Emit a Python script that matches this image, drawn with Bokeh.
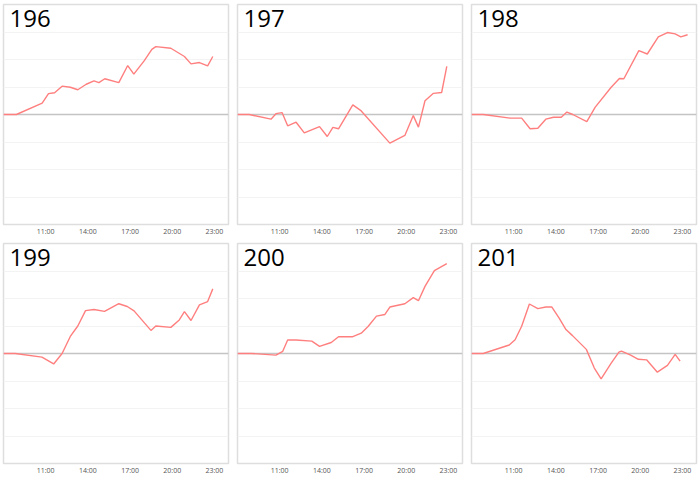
from bokeh.plotting import figure
from bokeh.layouts import gridplot
from bokeh.models import FixedTicker, Span, Label
from bokeh.embed import file_html
from bokeh.resources import INLINE

PANEL_IDS = ["196", "197", "198", "199", "200", "201"]
TICK_LABELS = ["11:00", "14:00", "17:00", "20:00", "23:00"]

T196 = ["8:00", "8:55", "10:45", "11:12", "11:38", "12:10", "12:45", "13:17", "13:53", "14:26", "14:47", "15:12",
        "16:12", "16:50", "17:16", "18:00", "18:33", "18:50", "19:54", "20:52", "21:20", "21:56", "22:31", "22:53"]
V196 = [0, 0, 0.41, 0.76, 0.79, 1.03, 0.99, 0.9, 1.1, 1.22, 1.16, 1.3,
        1.16, 1.78, 1.47, 1.95, 2.37, 2.47, 2.41, 2.11, 1.84, 1.89, 1.77, 2.11]

T197 = ["8:00", "8:50", "10:23", "10:44", "11:10", "11:34", "12:10", "12:45", "13:50", "14:23", "14:47", "15:11",
        "16:12", "16:48", "18:50", "19:54", "20:30", "20:52", "21:20", "21:56", "22:31", "22:53"]
V197 = [0, 0, -0.17, 0.03, 0.07, -0.41, -0.28, -0.67, -0.44, -0.8, -0.47, -0.52,
        0.35, 0.13, -1.04, -0.76, -0.04, -0.46, 0.5, 0.77, 0.8, 1.75]

T198 = ["8:00", "8:50", "10:44", "11:34", "12:10", "12:43", "13:17", "13:50", "14:23", "14:47", "15:12", "16:12",
        "16:48", "17:56", "18:31", "18:50", "19:54", "20:30", "21:17", "21:56", "22:29", "22:53", "23:22"]
V198 = [0, 0, -0.13, -0.13, -0.52, -0.5, -0.17, -0.1, -0.1, 0.09, 0, -0.26,
        0.27, 0.99, 1.31, 1.3, 2.32, 2.2, 2.82, 2.98, 2.93, 2.82, 2.9]

T199 = ["8:00", "8:50", "10:44", "11:34", "12:10", "12:45", "13:17", "13:50", "14:26", "15:11", "16:12", "16:48",
        "17:17", "18:29", "18:50", "19:54", "20:30", "20:52", "21:20", "21:56", "22:31", "22:53"]
V199 = [0, 0, -0.13, -0.38, 0, 0.62, 1.0, 1.56, 1.6, 1.53, 1.81, 1.71,
        1.55, 0.84, 1.0, 0.95, 1.22, 1.52, 1.2, 1.77, 1.89, 2.35]

T200 = ["8:00", "9:00", "10:44", "11:13", "11:34", "12:10", "13:17", "13:50", "14:40", "15:11", "16:12", "16:48",
        "17:17", "17:53", "18:29", "18:50", "19:54", "20:30", "20:52", "21:20", "22:00", "22:53"]
V200 = [0, 0, -0.06, 0.08, 0.49, 0.49, 0.45, 0.26, 0.4, 0.61, 0.61, 0.74,
        0.98, 1.36, 1.42, 1.69, 1.81, 2.03, 1.92, 2.44, 3.01, 3.27]

T201 = ["8:00", "8:50", "10:41", "11:06", "11:34", "12:07", "12:43", "13:17", "13:43", "14:14", "14:43", "15:11",
        "16:10", "16:44", "17:13", "17:56", "18:29", "18:40", "19:19", "19:52", "20:27", "21:13", "21:56", "22:29", "22:50"]
V201 = [0, 0, 0.31, 0.5, 0.99, 1.8, 1.63, 1.69, 1.69, 1.29, 0.87, 0.65,
        0.15, -0.53, -0.92, -0.35, 0.05, 0.09, -0.06, -0.21, -0.23, -0.68, -0.43, -0.03, -0.28]

SERIES = [(T196, V196), (T197, V197), (T198, V198), (T199, V199), (T200, V200), (T201, V201)]


def hours(s):
    h, m = s.split(":")
    return int(h) + int(m) / 60.0


tick_pos = [hours(t) for t in TICK_LABELS]
overrides = {p: lab for p, lab in zip(tick_pos, TICK_LABELS)}

figs = []
for i, (pid, (ts, vs)) in enumerate(zip(PANEL_IDS, SERIES)):
    col, row = i % 3, i // 3
    p = figure(frame_width=225, frame_height=220, x_range=(8, 24), y_range=(-4, 4),
               output_backend="svg", toolbar_location=None,
               min_border_left=2, min_border_right=(7 if col < 2 else 2),
               min_border_top=2, min_border_bottom=(17 if row == 0 else 12))
    p.background_fill_color = "white"
    p.border_fill_color = "white"
    p.outline_line_color = "#dedede"
    p.outline_line_width = 1.5
    p.yaxis.visible = False
    p.xgrid.visible = False
    p.ygrid.ticker = FixedTicker(ticks=[-3, -2, -1, 1, 2, 3])
    p.ygrid.grid_line_color = "#f3f3f3"
    p.xaxis.ticker = FixedTicker(ticks=tick_pos)
    p.xaxis.major_label_overrides = overrides
    p.xaxis.axis_line_color = None
    p.xaxis.major_tick_line_color = None
    p.xaxis.minor_tick_line_color = None
    p.xaxis.major_tick_out = 0
    p.xaxis.major_tick_in = 0
    p.xaxis.minor_tick_out = 0
    p.xaxis.minor_tick_in = 0
    p.xaxis.major_label_text_font = "Open Sans"
    p.xaxis.major_label_text_font_size = "7px"
    p.xaxis.major_label_text_color = "#555555"
    p.xaxis.major_label_standoff = 2
    p.add_layout(Span(location=0, dimension="width", line_color="#c4c4c4", line_width=1.5, level="underlay"))
    p.line([hours(t) for t in ts], vs, line_color="#ff7f7f", line_width=1.4)
    p.add_layout(Label(x=8.43, y=3.49, text=pid, text_font="Open Sans", text_font_size="24px",
                       text_color="black", text_baseline="alphabetic", text_align="left"))
    figs.append(p)

grid = gridplot([figs[0:3], figs[3:6]], toolbar_location=None)
grid.margin = (2, 0, 0, 1)

open("out.html", "w").write(file_html(grid, INLINE))
